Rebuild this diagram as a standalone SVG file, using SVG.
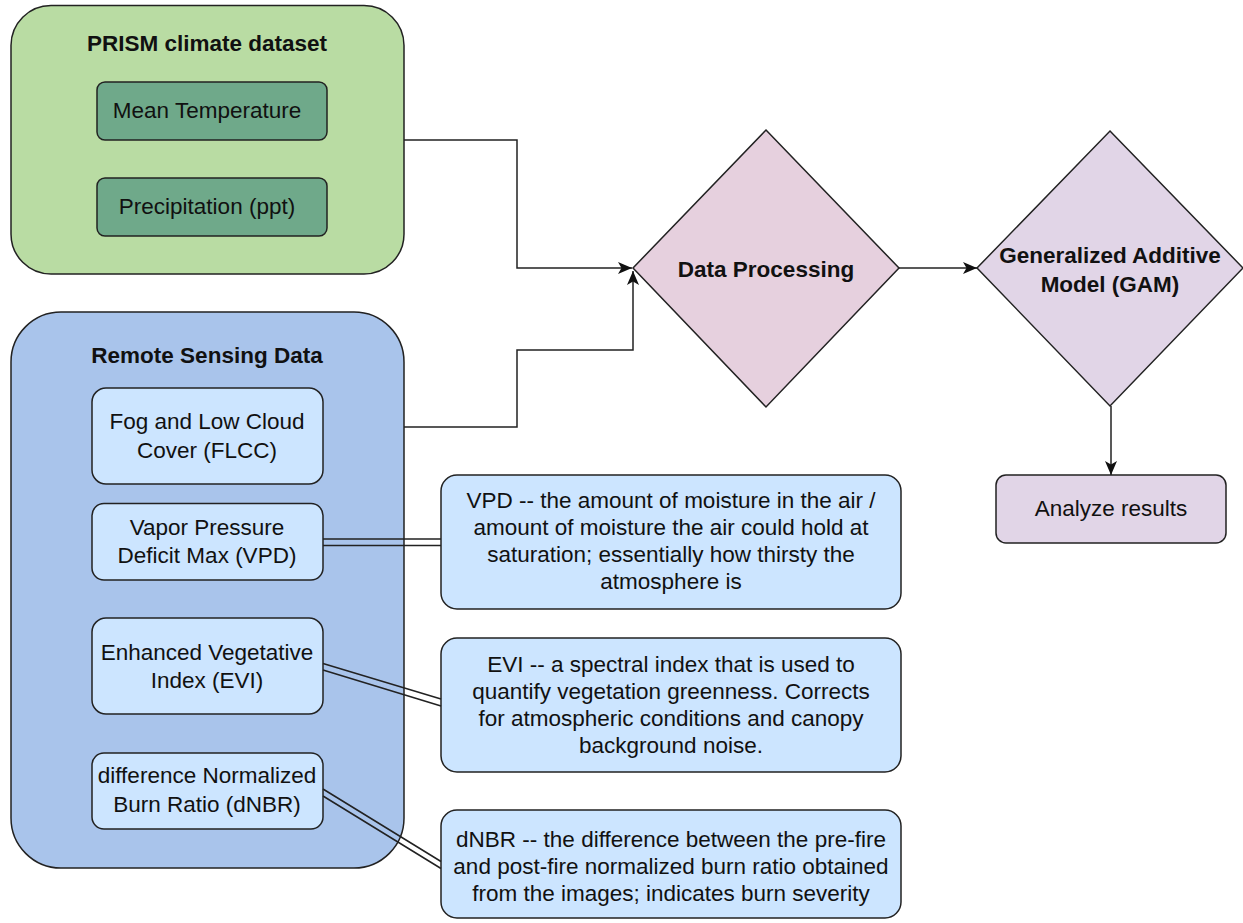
<svg xmlns="http://www.w3.org/2000/svg" width="1243" height="923" viewBox="0 0 1243 923">
<style>
text{font-family:"Liberation Sans",Arial,Helvetica,sans-serif;font-size:22.5px;fill:#111;text-anchor:middle}
.b{font-weight:bold}
.s{stroke:#222;stroke-width:1.5}
.c{fill:none;stroke:#222;stroke-width:1.5}
.green{fill:#b9dca3}
.dgreen{fill:#6fa98a}
.blue{fill:#a9c4eb}
.lblue{fill:#cce5ff}
.pink{fill:#e6d0de}
.purple{fill:#e1d5e7}
</style>
<defs>
<marker id="arr" viewBox="0 0 14 12" refX="14" refY="6" markerWidth="14" markerHeight="12" markerUnits="userSpaceOnUse" orient="auto">
<path d="M0,0 L14,6 L0,12 L3.5,6 Z" fill="#111"/>
</marker>
</defs>
<g id="prism">
<rect x="11" y="5.5" width="393" height="268.5" rx="40" class="green s"/>
<text x="207" y="51" class="b">PRISM climate dataset</text>
</g>
<g id="mean-temp">
<rect x="97" y="82" width="230" height="58" rx="8" class="dgreen s"/>
<text x="207" y="118">Mean Temperature</text>
</g>
<g id="precip">
<rect x="97" y="178" width="230" height="58" rx="8" class="dgreen s"/>
<text x="207" y="214">Precipitation (ppt)</text>
</g>
<g id="remote">
<rect x="11" y="312" width="393" height="556" rx="50" class="blue s"/>
<text x="207" y="363" class="b">Remote Sensing Data</text>
</g>
<g id="flcc">
<rect x="92" y="388" width="231" height="96" rx="14" class="lblue s"/>
<text x="207" y="429">Fog and Low Cloud</text>
<text x="207" y="458">Cover (FLCC)</text>
</g>
<g id="vpd">
<rect x="92" y="503.5" width="231" height="76.5" rx="12" class="lblue s"/>
<text x="207" y="535">Vapor Pressure</text>
<text x="207" y="563">Deficit Max (VPD)</text>
</g>
<g id="evi">
<rect x="92" y="618" width="231" height="96" rx="14" class="lblue s"/>
<text x="207" y="660">Enhanced Vegetative</text>
<text x="207" y="688">Index (EVI)</text>
</g>
<g id="dnbr">
<rect x="92" y="753" width="231" height="76" rx="12" class="lblue s"/>
<text x="207" y="783">difference Normalized</text>
<text x="207" y="812">Burn Ratio (dNBR)</text>
</g>
<g id="vpd-note">
<rect x="441" y="475" width="460" height="134" rx="16" class="lblue s"/>
<text x="671" y="508">VPD -- the amount of moisture in the air /</text>
<text x="671" y="535">amount of moisture the air could hold at</text>
<text x="671" y="562">saturation; essentially how thirsty the</text>
<text x="671" y="589">atmosphere is</text>
</g>
<g id="evi-note">
<rect x="441" y="638" width="460" height="134" rx="16" class="lblue s"/>
<text x="671" y="672">EVI -- a spectral index that is used to</text>
<text x="671" y="699">quantify vegetation greenness. Corrects</text>
<text x="671" y="726">for atmospheric conditions and canopy</text>
<text x="671" y="753">background noise.</text>
</g>
<g id="dnbr-note">
<rect x="441" y="810" width="460" height="108" rx="16" class="lblue s"/>
<text x="671" y="847">dNBR -- the difference between the pre-fire</text>
<text x="671" y="874">and post-fire normalized burn ratio obtained</text>
<text x="671" y="901">from the images; indicates burn severity</text>
</g>
<g id="data-processing">
<polygon points="766,130 899,268 766,407 633,268" class="pink s"/>
<text x="766" y="277" class="b">Data Processing</text>
</g>
<g id="gam">
<polygon points="1110,131 1243,268 1110,406 977,268" class="purple s"/>
<text x="1110" y="263" class="b">Generalized Additive</text>
<text x="1110" y="292" class="b">Model (GAM)</text>
</g>
<g id="analyze">
<rect x="996" y="475" width="230" height="68" rx="10" class="purple s"/>
<text x="1111" y="516">Analyze results</text>
</g>
<g id="connectors">
<path d="M404,140 H517 V268 H632" class="c" marker-end="url(#arr)"/>
<path d="M404,427 H517 V350 H633 V271" class="c" marker-end="url(#arr)"/>
<path d="M899,268 H977" class="c" marker-end="url(#arr)"/>
<path d="M1111,406 V475" class="c" marker-end="url(#arr)"/>
<path d="M323,539 H441 M323,545.5 H441" class="c"/>
<path d="M323,663.5 L441,699 M323,670 L441,706" class="c"/>
<path d="M323,789 L441,861.5 M323,796 L441,868.5" class="c"/>
</g>
</svg>
